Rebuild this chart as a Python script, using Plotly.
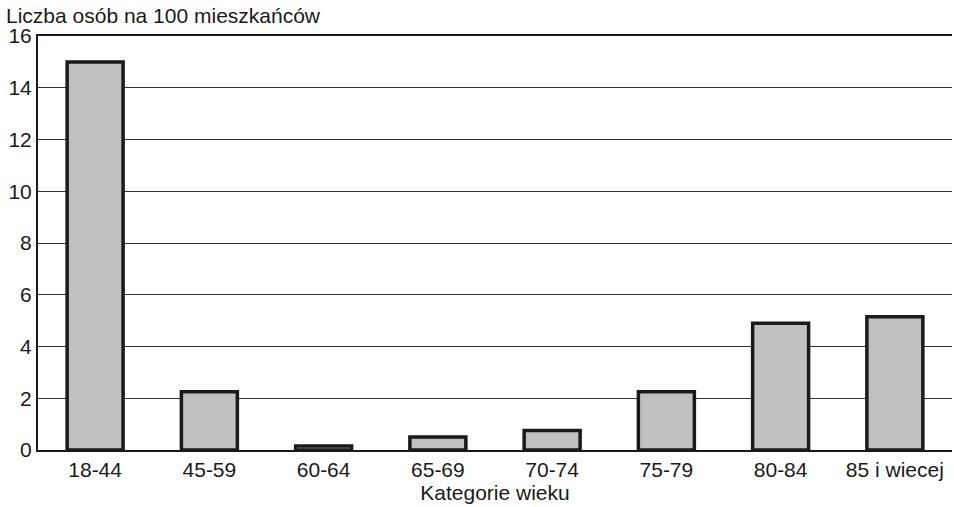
import plotly.graph_objects as go

categories = ["18-44", "45-59", "60-64", "65-69", "70-74", "75-79", "80-84", "85 i wiecej"]
values = [15.0, 2.25, 0.15, 0.5, 0.75, 2.25, 4.9, 5.15]
y_ticks = [0, 2, 4, 6, 8, 10, 12, 14, 16]

FONT = "Liberation Sans, Arial, sans-serif"
FS = 21

fig = go.Figure(go.Bar(
    x=categories, y=values,
    marker=dict(color="#c0c0c0", line=dict(color="#1a1a1a", width=3.5)),
    width=0.49,
))

fig.update_layout(
    width=954, height=507,
    margin=dict(l=38, r=2, t=36, b=57),
    plot_bgcolor="white", paper_bgcolor="white",
    showlegend=False,
    font=dict(family=FONT, size=FS, color="#1a1a1a"),
    xaxis=dict(
        range=[-0.5, 7.5], automargin=False,
        showline=True, linecolor="#1a1a1a", linewidth=2, mirror=True,
        showgrid=False, ticks="", ticklen=0,
        tickfont=dict(size=FS, family=FONT, color="#1a1a1a"),
        title=dict(text="Kategorie wieku", standoff=0,
                   font=dict(size=FS, family=FONT, color="#1a1a1a")),
    ),
    yaxis=dict(
        range=[0, 16], tickvals=y_ticks, automargin=False,
        showline=True, linecolor="#1a1a1a", linewidth=2,
        showgrid=True, gridcolor="#333333", gridwidth=1,
        zeroline=False, ticks="",
        tickfont=dict(size=FS, family=FONT, color="#1a1a1a"),
    ),
    annotations=[dict(
        text="Liczba osób na 100 mieszkańców",
        xref="paper", yref="paper", x=-0.037, y=1,
        xanchor="left", yanchor="bottom", yshift=7, showarrow=False,
        font=dict(size=FS, family=FONT, color="#1a1a1a"),
    )],
)

fig.write_html("out.html", config={"displayModeBar": False},
               post_script="document.body.style.margin='0px';document.body.style.overflow='hidden';")
